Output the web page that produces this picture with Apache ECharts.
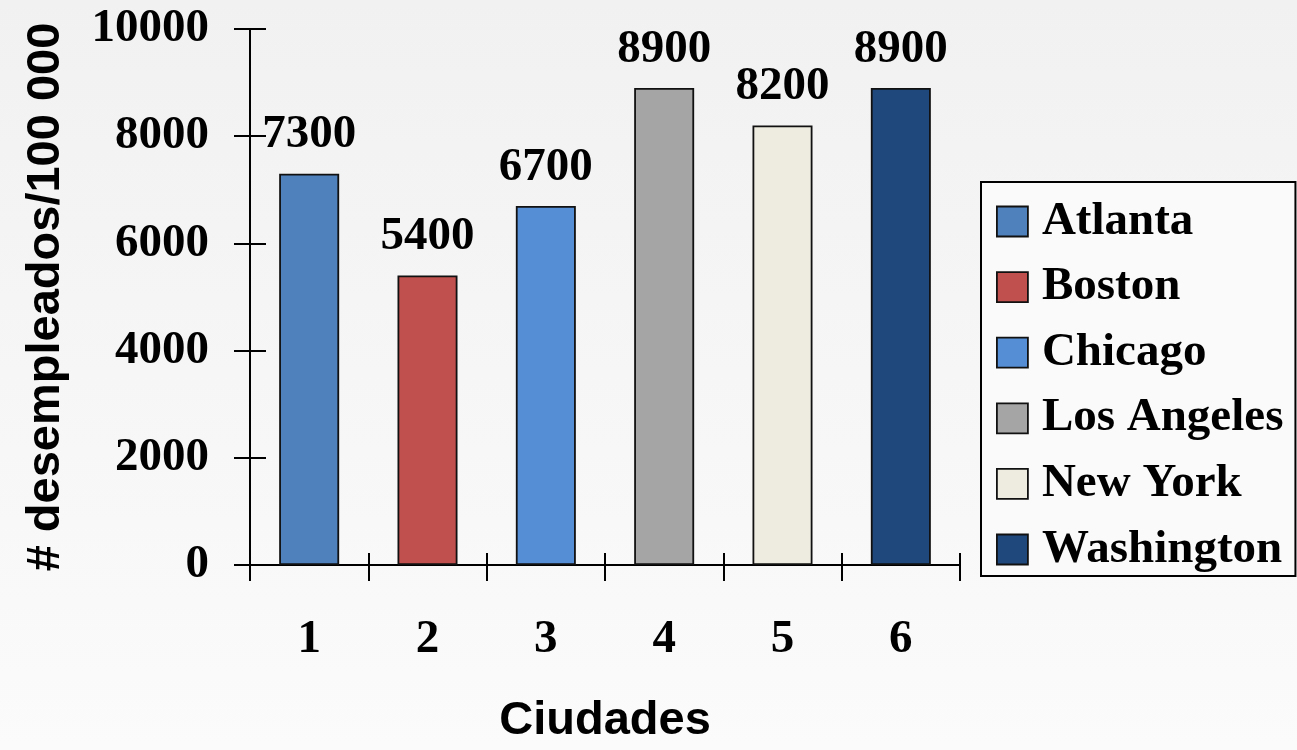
<!DOCTYPE html>
<html>
<head>
<meta charset="utf-8">
<title>Desempleados por ciudad</title>
<script src="https://cdn.jsdelivr.net/npm/echarts@6/dist/echarts.min.js"></script>
<style>
  html, body { margin: 0; padding: 0; }
  #chart { width: 1297px; height: 750px; }
</style>
</head>
<body>
<div id="chart"></div>
<script>
// Unemployed per 100 000 inhabitants, one bar per city
const categories = ['1', '2', '3', '4', '5', '6'];
const cities = ['Atlanta', 'Boston', 'Chicago', 'Los Angeles', 'New York', 'Washington'];
const values = [7300, 5400, 6700, 8900, 8200, 8900];
const colors = ['#4F81BD', '#C0504D', '#558ED5', '#A5A5A5', '#EEECE1', '#1F497D'];
const yTicks = [0, 2000, 4000, 6000, 8000, 10000];

const serif = '"Liberation Serif", "Times New Roman", serif';
const sans = '"Liberation Sans", Arial, sans-serif';

const chart = echarts.init(document.getElementById('chart'), null, { renderer: 'canvas' });

// Each city is its own series so the legend can list it; all series share one slot
const series = cities.map((city, i) => ({
  name: city,
  type: 'bar',
  xAxisIndex: 0,
  yAxisIndex: 0,
  barWidth: 60,
  barGap: '-100%',
  data: categories.map((c, j) => (j === i ? values[i] : '-')),
  itemStyle: { color: colors[i], borderColor: '#111', borderWidth: 1.8 },
  label: {
    show: true,
    position: 'top',
    distance: 15,
    color: '#000',
    fontFamily: serif,
    fontWeight: 'bold',
    fontSize: 47
  }
}));

const axisLineStyle = { color: '#000', width: 2 };

const option = {
  backgroundColor: {
    type: 'linear', x: 0, y: 0, x2: 0, y2: 1,
    colorStops: [
      { offset: 0, color: '#f1f1f1' },
      { offset: 1, color: '#fbfbfb' }
    ]
  },
  animation: false,
  grid: { left: 250, right: 337, top: 29, bottom: 183, containLabel: false },
  legend: {
    orient: 'vertical',
    left: 981,
    top: 182,
    width: 314,
    padding: [16, 12, 3, 15],
    itemGap: 18.6,
    itemWidth: 31,
    itemHeight: 30,
    backgroundColor: '#fafafa',
    borderColor: '#000',
    borderWidth: 2,
    icon: 'rect',
    itemStyle: { borderColor: '#111', borderWidth: 1.8 },
    textStyle: {
      color: '#000',
      fontFamily: serif,
      fontWeight: 'bold',
      fontSize: 47,
      padding: [0, 0, 0, 9]
    },
    data: cities
  },
  xAxis: [
    {
      type: 'category',
      position: 'bottom',
      data: categories,
      boundaryGap: true,
      axisLine: { show: true, lineStyle: axisLineStyle },
      axisTick: { show: true, inside: false, length: 16, lineStyle: axisLineStyle },
      axisLabel: {
        margin: 51,
        color: '#000',
        fontFamily: serif,
        fontWeight: 'bold',
        fontSize: 47
      },
      splitLine: { show: false },
      name: 'Ciudades',
      nameLocation: 'middle',
      nameGap: 133,
      nameTextStyle: { color: '#000', fontFamily: sans, fontWeight: 'bold', fontSize: 47 }
    },
    {
      // inner half of the crossing ticks
      type: 'category',
      position: 'bottom',
      data: categories,
      boundaryGap: true,
      axisLine: { show: false },
      axisTick: { show: true, inside: true, length: 12, lineStyle: axisLineStyle },
      axisLabel: { show: false },
      splitLine: { show: false }
    }
  ],
  yAxis: [
    {
      type: 'value',
      position: 'left',
      min: 0,
      max: 10000,
      interval: 2000,
      axisLine: { show: true, lineStyle: axisLineStyle },
      axisTick: { show: true, inside: false, length: 16, lineStyle: axisLineStyle },
      axisLabel: {
        margin: 41,
        color: '#000',
        fontFamily: serif,
        fontWeight: 'bold',
        fontSize: 47,
        formatter: v => (yTicks.indexOf(v) >= 0 ? String(v) : '')
      },
      splitLine: { show: false },
      name: '# desempleados/100 000',
      nameLocation: 'middle',
      nameGap: 180,
      nameRotate: 90,
      nameTextStyle: { color: '#000', fontFamily: sans, fontWeight: 'bold', fontSize: 47 }
    },
    {
      // inner half of the crossing ticks
      type: 'value',
      position: 'left',
      min: 0,
      max: 10000,
      interval: 2000,
      axisLine: { show: false },
      axisTick: { show: true, inside: true, length: 16, lineStyle: axisLineStyle },
      axisLabel: { show: false },
      splitLine: { show: false }
    }
  ],
  series: series
};

chart.setOption(option);
</script>
</body>
</html>
